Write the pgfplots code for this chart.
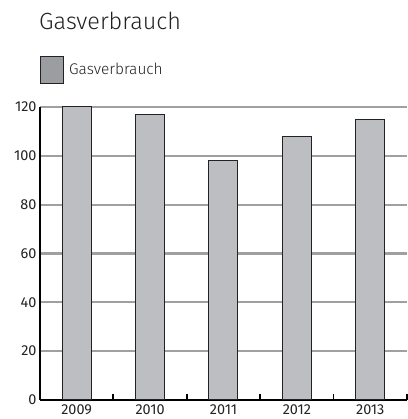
\documentclass[border=0pt]{standalone}
\usepackage{pgfplots}
\pgfplotsset{compat=1.18}
\usepackage{fontspec}
\setmainfont{Fira Sans}[BoldFont=Fira Sans]
\newfontfamily\lightfont{Fira Sans Light}
\definecolor{bargray}{HTML}{BDBEC2}
\definecolor{leggray}{HTML}{9C9DA1}
\definecolor{gridgray}{HTML}{A0A0A0}
\definecolor{txt}{HTML}{222222}
\begin{document}
\begin{tikzpicture}
\useasboundingbox (0,0) rectangle (408bp,419bp);
\node[anchor=base west, inner sep=0pt, text=txt, font=\lightfont\fontsize{23.5}{28}\selectfont] at (39bp,389bp) {Gasverbrauch};
\begin{axis}[
  at={(40bp,19bp)}, anchor=south west,
  scale only axis, width=367bp, height=293bp,
  xmin=-0.5, xmax=4.5, ymin=0, ymax=120,
  axis x line=bottom, axis y line=left,
  axis line style={line width=1.8bp, black, -},
  xtick={0,1,2,3,4},
  xticklabels={2009,2010,2011,2012,2013},
  ytick={0,20,40,60,80,100,120},
  major tick length=0pt,
  extra x ticks={0.5,1.5,2.5,3.5,4.5},
  extra x tick labels={},
  extra x tick style={major tick length=6bp, tick align=inside, tick style={line width=1.8bp, black}},
  ymajorgrids, grid style={line width=2.2bp, gridgray},
  ticklabel style={font=\fontsize{14.5}{17}\selectfont, text=txt},
  /pgf/number format/assume math mode=true,
  xticklabel style={yshift=-1bp},
  legend style={draw=none, at={(0,1)}, anchor=west, yshift=37bp, inner sep=0pt, outer sep=0pt,
    font=\lightfont\fontsize{15.5}{18}\selectfont, text=txt, legend cell align=left,
    /tikz/every even column/.append style={column sep=0pt}},
  legend image code/.code={\draw[#1] (0bp,-13.5bp) rectangle (23bp,13.5bp);},
]
\addplot[ybar, bar width=29bp, fill=bargray, draw=txt, line width=1bp, forget plot]
  coordinates {(0,120) (1,117) (2,98) (3,108) (4,115)};
\addlegendimage{fill=leggray, draw=txt, line width=1.2bp}
\addlegendentry{\hspace{3bp}Gasverbrauch}
\end{axis}
\end{tikzpicture}
\end{document}
